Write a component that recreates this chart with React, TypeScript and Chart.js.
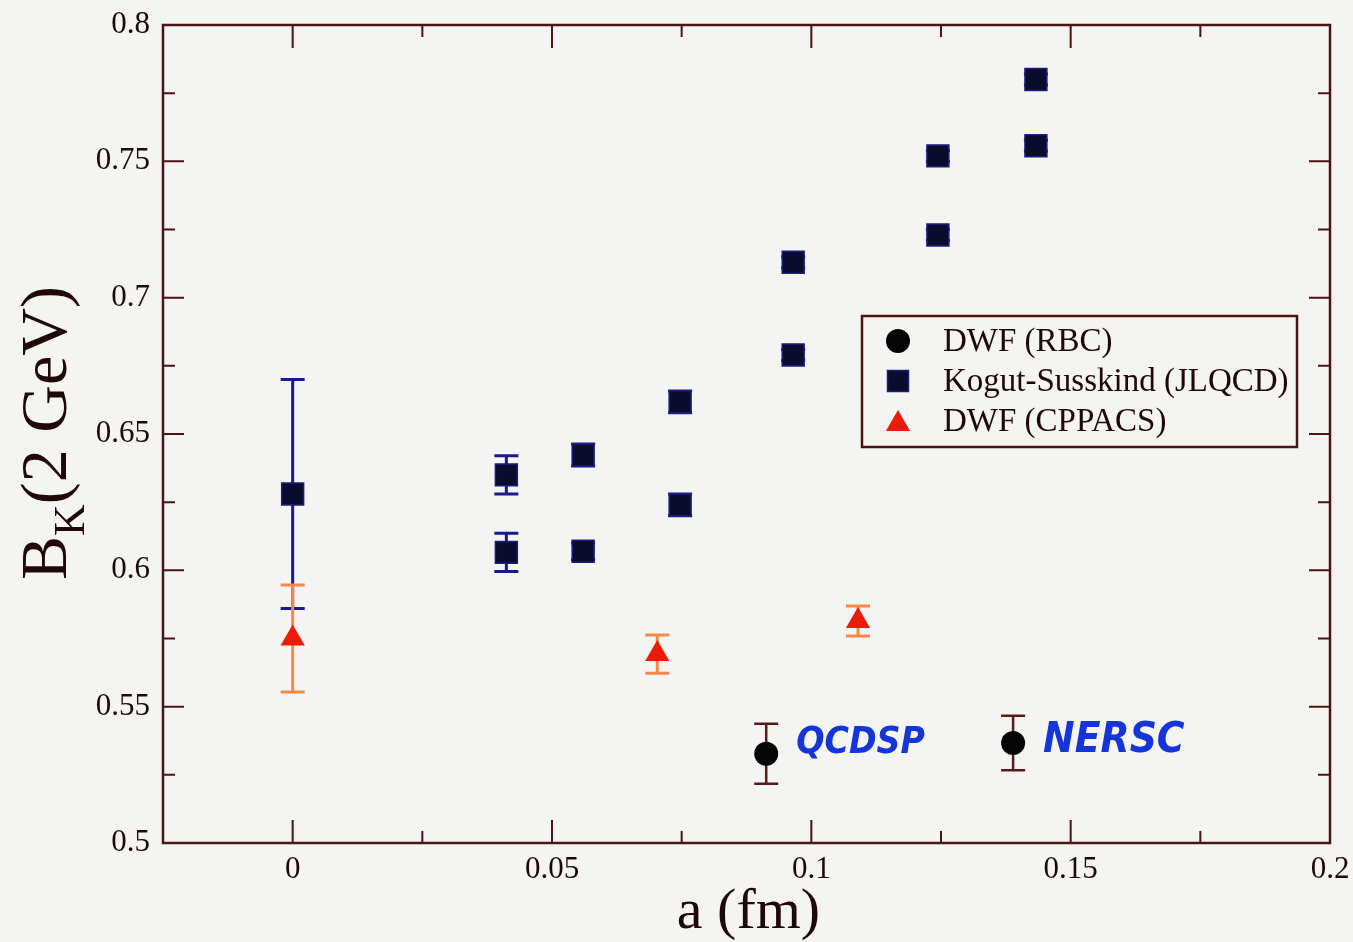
import { useEffect, useRef } from 'react';
import { Chart, registerables } from 'chart.js';

Chart.register(...registerables);

// ---- data ----
const rbcX = [0.0913, 0.1389];
const rbcY = [0.5327, 0.5367];
const rbcErr = [0.011, 0.010];

const ksX = [0, 0.0412, 0.0412, 0.056, 0.056, 0.0747, 0.0747, 0.0965, 0.0965, 0.1244, 0.1244, 0.1433, 0.1433];
const ksY = [0.628, 0.635, 0.6066, 0.6423, 0.607, 0.6618, 0.624, 0.713, 0.679, 0.752, 0.723, 0.780, 0.7557];
const ksErr = [0.042, 0.007, 0.007, 0.004, 0.003, 0.004, 0.004, 0.002, 0.002, 0.002, 0.002, 0.002, 0.002];

const cpX = [0, 0.0703, 0.109];
const cpY = [0.575, 0.5693, 0.5814];
const cpErr = [0.0196, 0.007, 0.0055];

const seriesNames = ['DWF (RBC)', 'Kogut-Susskind (JLQCD)', 'DWF (CPPACS)'];
const noteLabels = ['QCDSP', 'NERSC'];

const xMin = -0.025;
const xMax = 0.2;
const yMin = 0.5;
const yMax = 0.8;
const tickStep = 0.025;
const majorStep = 0.05;

const xTitle = 'a (fm)';
const yTitleMain = 'B';
const yTitleSub = 'K';
const yTitleRest = '(2 GeV)';

// ---- styles ----
const BG = '#f4f4f2';
const AXIS = '#4a1414';
const TEXT = '#1f0808';
const SERIF = '"Liberation Serif", "Times New Roman", serif';

const toPts = (xs: number[], ys: number[]) => xs.map((x, i) => ({ x, y: ys[i] }));

const isMajor = (v: number) => Math.round(v * 1000) % Math.round(majorStep * 1000) === 0;
const fmt = (v: number) => String(Math.round(v * 1000) / 1000);

function drawMarker(ctx: CanvasRenderingContext2D, kind: string, x: number, y: number) {
  ctx.save();
  if (kind === 'circle') {
    ctx.fillStyle = '#050505';
    ctx.beginPath();
    ctx.arc(x, y, 12, 0, Math.PI * 2);
    ctx.fill();
  } else if (kind === 'rect') {
    ctx.fillStyle = '#0b0b2e';
    ctx.strokeStyle = '#1c1c80';
    ctx.lineWidth = 1.5;
    ctx.fillRect(x - 10.5, y - 10.5, 21, 21);
    ctx.strokeRect(x - 10.5, y - 10.5, 21, 21);
  } else {
    const r = 14;
    ctx.fillStyle = '#ee1a0a';
    ctx.beginPath();
    ctx.moveTo(x, y - r);
    ctx.lineTo(x + r * Math.sin((2 * Math.PI) / 3), y + r / 2);
    ctx.lineTo(x - r * Math.sin((2 * Math.PI) / 3), y + r / 2);
    ctx.closePath();
    ctx.fill();
  }
  ctx.restore();
}

const paperPlugin = {
  id: 'paper',
  beforeDraw(chart: any) {
    const ctx = chart.ctx;
    ctx.save();
    ctx.fillStyle = BG;
    ctx.fillRect(0, 0, chart.width, chart.height);
    ctx.restore();
  },
  beforeDatasetsDraw(chart: any) {
    const ctx = chart.ctx;
    const xs = chart.scales.x;
    const ys = chart.scales.y;
    chart.data.datasets.forEach((ds: any) => {
      const errs: number[] = ds.errors || [];
      ctx.save();
      ctx.strokeStyle = ds.errColor;
      ctx.lineWidth = ds.errWidth || 2.5;
      ds.data.forEach((p: any, i: number) => {
        const e = errs[i] || 0;
        const px = xs.getPixelForValue(p.x);
        const top = ys.getPixelForValue(p.y + e);
        const bot = ys.getPixelForValue(p.y - e);
        ctx.beginPath();
        ctx.moveTo(px, top);
        ctx.lineTo(px, bot);
        ctx.moveTo(px - 12, top);
        ctx.lineTo(px + 12, top);
        ctx.moveTo(px - 12, bot);
        ctx.lineTo(px + 12, bot);
        ctx.stroke();
      });
      ctx.restore();
    });
  },
  afterDatasetsDraw(chart: any) {
    const ctx = chart.ctx;
    const a = chart.chartArea;
    const xs = chart.scales.x;
    const ys = chart.scales.y;
    ctx.save();
    // frame
    ctx.strokeStyle = AXIS;
    ctx.lineWidth = 2.5;
    ctx.strokeRect(a.left, a.top, a.right - a.left, a.bottom - a.top);
    // inward ticks on all four sides
    ctx.lineWidth = 2;
    xs.ticks.forEach((t: any) => {
      const v = t.value;
      if (v <= xMin + 1e-9 || v >= xMax - 1e-9) return;
      const px = xs.getPixelForValue(v);
      const len = isMajor(v) ? 23 : 12;
      ctx.beginPath();
      ctx.moveTo(px, a.bottom);
      ctx.lineTo(px, a.bottom - len);
      ctx.moveTo(px, a.top);
      ctx.lineTo(px, a.top + len);
      ctx.stroke();
    });
    ys.ticks.forEach((t: any) => {
      const v = t.value;
      if (v <= yMin + 1e-9 || v >= yMax - 1e-9) return;
      const py = ys.getPixelForValue(v);
      const len = isMajor(v) ? 21 : 12;
      ctx.beginPath();
      ctx.moveTo(a.left, py);
      ctx.lineTo(a.left + len, py);
      ctx.moveTo(a.right, py);
      ctx.lineTo(a.right - len, py);
      ctx.stroke();
    });

    // x title
    ctx.fillStyle = TEXT;
    ctx.font = `58px ${SERIF}`;
    ctx.textAlign = 'center';
    ctx.textBaseline = 'alphabetic';
    ctx.fillText(xTitle, (a.left + a.right) / 2 + 2, 928);

    // y title with subscript
    ctx.save();
    ctx.translate(66, 433);
    ctx.rotate(-Math.PI / 2);
    const mainFont = `66px ${SERIF}`;
    const subFont = `44px ${SERIF}`;
    ctx.font = mainFont;
    const wB = ctx.measureText(yTitleMain).width;
    const wRest = ctx.measureText(yTitleRest).width;
    ctx.font = subFont;
    const wK = ctx.measureText(yTitleSub).width;
    const total = wB + wK + wRest;
    let cx = -total / 2;
    ctx.textAlign = 'left';
    ctx.font = mainFont;
    ctx.fillText(yTitleMain, cx, 0);
    cx += wB;
    ctx.font = subFont;
    ctx.fillText(yTitleSub, cx, 18);
    cx += wK;
    ctx.font = mainFont;
    ctx.fillText(yTitleRest, cx, 0);
    ctx.restore();

    // legend box
    const lx = 862, ly = 316, lw = 435, lh = 131;
    ctx.fillStyle = BG;
    ctx.fillRect(lx, ly, lw, lh);
    ctx.strokeStyle = AXIS;
    ctx.lineWidth = 2.5;
    ctx.strokeRect(lx, ly, lw, lh);
    const kinds = ['circle', 'rect', 'triangle'];
    ctx.font = `33px ${SERIF}`;
    ctx.textAlign = 'left';
    ctx.textBaseline = 'middle';
    seriesNames.forEach((name, i) => {
      const ry = ly + 25 + i * 40;
      drawMarker(ctx, kinds[i], 898, ry + (kinds[i] === 'triangle' ? 3 : 0));
      ctx.fillStyle = TEXT;
      ctx.fillText(name, 943, ry + 1);
    });

    // handwritten notes next to the RBC points
    ctx.fillStyle = '#1535d8';
    ctx.textAlign = 'left';
    ctx.textBaseline = 'middle';
    noteLabels.forEach((txt, i) => {
      const px = xs.getPixelForValue(rbcX[i]);
      const py = ys.getPixelForValue(rbcY[i]);
      ctx.font = `italic bold ${i === 0 ? 37 : 42}px "Liberation Sans Narrow", "DejaVu Sans Condensed", sans-serif`;
      ctx.fillText(txt, px + 30, py - (i === 0 ? 10 : 2));
    });
    ctx.restore();
  },
};

export default function App() {
  const ref = useRef<HTMLCanvasElement | null>(null);
  useEffect(() => {
    if (!ref.current) return;
    const chart = new Chart(ref.current, {
      type: 'scatter',
      data: {
        datasets: [
          {
            label: seriesNames[1],
            data: toPts(ksX, ksY),
            pointStyle: 'rect',
            pointRadius: 15.5,
            backgroundColor: '#0b0b2e',
            borderColor: '#1c1c80',
            borderWidth: 1.5,
            errors: ksErr,
            errColor: '#1a1a8c',
            errWidth: 3,
          } as any,
          {
            label: seriesNames[2],
            data: toPts(cpX, cpY),
            pointStyle: 'triangle',
            pointRadius: 14,
            backgroundColor: '#ee1a0a',
            borderColor: '#ee1a0a',
            borderWidth: 0,
            errors: cpErr,
            errColor: '#f5894a',
            errWidth: 3,
          } as any,
          {
            label: seriesNames[0],
            data: toPts(rbcX, rbcY),
            pointStyle: 'circle',
            pointRadius: 12,
            backgroundColor: '#050505',
            borderColor: '#050505',
            borderWidth: 0,
            errors: rbcErr,
            errColor: '#5a1a1a',
            errWidth: 2.5,
          } as any,
        ],
      },
      options: {
        animation: false,
        responsive: true,
        maintainAspectRatio: false,
        layout: { padding: { left: 0, right: 23, top: 25, bottom: 0 } },
        plugins: {
          legend: { display: false },
          tooltip: { enabled: false },
        },
        scales: {
          x: {
            type: 'linear',
            min: xMin,
            max: xMax,
            grid: { display: false, drawTicks: false },
            border: { display: false },
            ticks: {
              stepSize: tickStep,
              autoSkip: false,
              maxRotation: 0,
              padding: 8,
              color: TEXT,
              font: { family: SERIF, size: 31 },
              callback: (v: any) => (isMajor(Number(v)) ? fmt(Number(v)) : ''),
            },
            afterFit: (s: any) => {
              s.height = 99;
              s.paddingLeft = 0;
              s.paddingRight = 0;
            },
          },
          y: {
            type: 'linear',
            min: yMin,
            max: yMax,
            grid: { display: false, drawTicks: false },
            border: { display: false },
            ticks: {
              stepSize: tickStep,
              autoSkip: false,
              padding: 13,
              color: TEXT,
              font: { family: SERIF, size: 31 },
              callback: (v: any) => (isMajor(Number(v)) ? fmt(Number(v)) : ''),
            },
            afterFit: (s: any) => {
              s.width = 163;
              s.paddingTop = 0;
              s.paddingBottom = 0;
            },
          },
        },
      },
      plugins: [paperPlugin],
    });
    return () => chart.destroy();
  }, []);
  return (
    <div style={{ position: 'absolute', left: 0, top: 0, width: 1353, height: 942, background: BG }}>
      <canvas ref={ref} />
    </div>
  );
}
